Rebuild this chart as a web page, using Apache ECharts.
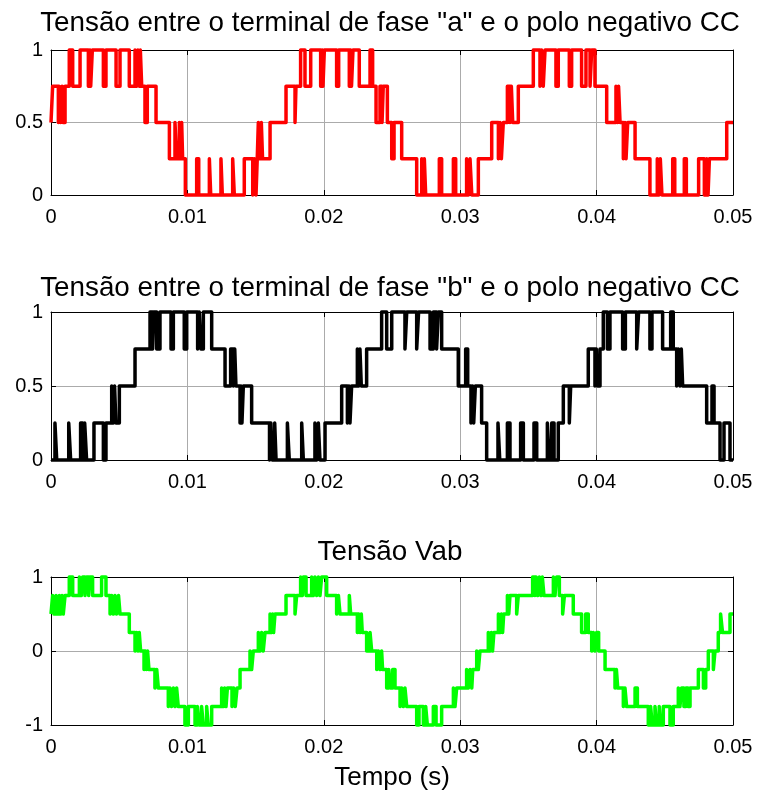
<!DOCTYPE html>
<html>
<head>
<meta charset="utf-8">
<script src="https://cdn.jsdelivr.net/npm/echarts@6/dist/echarts.min.js"></script>
<style>
  html, body { margin: 0; padding: 0; background: #fff; }
  #chart { width: 761px; height: 794px; }
</style>
</head>
<body>
<div id="chart"></div>
<script>
// [tempo em ms, nível] - cada nível vale até o próximo instante
const faseA = [
  [0,0.5],[0.12,0.75],[0.54,0.5],[0.59,0.75],[0.71,0.5],[0.81,0.75],[0.88,0.5],[1.03,0.75],
  [1.34,1],[1.59,0.75],[2.13,1],[2.74,0.75],[2.86,1],[2.91,0.75],[3.03,1],[3.84,0.75],[4.03,1],[4.77,0.75],[5.06,1],[5.74,0.75],[6.16,1],[6.28,0.75],[6.37,1],[6.48,0.75],[6.55,1],[6.65,0.75],
  [6.89,0.5],[7.06,0.75],[7.70,0.5],[8.68,0.25],[9.09,0.5],[9.21,0.25],[9.41,0.5],[9.51,0.25],[9.58,0.5],[9.65,0.25],
  [9.85,0],[10.68,0.25],[10.83,0],[11.61,0.25],[11.71,0],[12.46,0.25],[12.56,0],[13.32,0.25],[13.44,0],[14.17,0.25],[14.79,0],[14.91,0.25],[15.03,0],[15.12,0.25],
  [15.2,0.5],[15.32,0.25],[15.42,0.5],[15.51,0.25],[16.06,0.5],
  [17.23,0.75],[17.89,0.5],[17.96,0.75],
  [18.30,1],[18.62,0.75],[19.04,1],[19.77,0.75],[19.89,1],[19.94,0.75],[20.04,1],[20.94,0.75],[21.09,1],[21.87,0.75],[21.97,1],[22.03,0.75],[22.14,1],[22.6,0.75],[23.39,1],[23.58,0.75],
  [23.83,0.5],[24.12,0.75],[24.27,0.5],[24.36,0.75],[24.66,0.5],[24.98,0.25],[25.15,0.5],[25.71,0.25],
  [26.81,0],[27.18,0.25],[27.30,0],[27.37,0.25],[27.47,0],[28.47,0.25],[28.64,0],[29.5,0.25],[29.67,0],[30.47,0.25],[30.6,0],[30.72,0.25],[30.85,0],[31.33,0.25],
  [32.31,0.5],[32.8,0.25],[32.92,0.5],[33.02,0.25],[33.16,0.5],
  [33.46,0.75],[33.65,0.5],[33.75,0.75],[33.85,0.5],[34.26,0.75],
  [35.36,1],[35.85,0.75],[35.97,1],[36.09,0.75],[36.22,1],[37.02,0.75],[37.19,1],[38.0,0.75],[38.17,1],[38.9,0.75],[39.22,1],[39.52,0.75],[39.64,1],[39.88,0.75],
  [40.74,0.5],[41.42,0.75],[41.54,0.5],[41.61,0.75],[41.72,0.5],[41.96,0.25],[42.08,0.5],[42.16,0.25],[42.28,0.5],[42.82,0.25],
  [43.91,0],[44.45,0.25],[44.57,0],[44.67,0.25],[44.79,0],[45.58,0.25],[45.73,0],[46.43,0.25],[46.58,0],[47.48,0.25],[47.9,0],[48.07,0.25],[48.17,0],[48.27,0.25],
  [49.54,0.5],[50,0.5]
];

const faseB = [
  [0,0],[0.29,0.25],[0.42,0],[1.30,0.25],[1.44,0],[2.17,0.25],[2.32,0],[2.47,0.25],[2.61,0],[3.15,0.25],[3.84,0],[4.03,0.25],
  [4.45,0.5],[4.57,0.25],[4.66,0.5],[4.76,0.25],[5.01,0.5],
  [6.16,0.75],
  [7.26,1],[7.45,0.75],[7.55,1],[7.75,0.75],[7.99,1],[8.80,0.75],[8.97,1],[9.77,0.75],[9.95,1],[10.75,0.75],[10.87,1],[10.99,0.75],[11.17,1],[11.78,0.75],
  [12.76,0.5],[13.17,0.75],[13.37,0.5],[13.47,0.75],[13.56,0.5],[13.86,0.25],[13.93,0.5],[14.0,0.25],[14.1,0.5],[14.71,0.25],
  [16.02,0],[16.12,0.25],[16.22,0],[16.40,0.25],[16.50,0],[17.33,0.25],[17.47,0],[18.38,0.25],[18.5,0],[19.35,0.25],[19.48,0],[19.6,0.25],[19.72,0],[20.09,0.25],
  [21.31,0.5],[21.73,0.25],[21.85,0.5],[21.92,0.25],[22.04,0.5],
  [22.46,0.75],[22.56,0.5],[22.65,0.75],[22.75,0.5],[23.14,0.75],
  [24.24,1],[24.61,0.75],[24.98,1],[25.95,0.75],[26.08,1],[26.81,0.75],[26.95,1],[27.79,0.75],[28.03,1],[28.27,0.75],[28.4,1],[28.64,0.75],
  [29.86,0.5],[30.4,0.75],[30.55,0.5],[30.79,0.25],[30.91,0.5],[30.99,0.25],[31.11,0.5],[31.57,0.25],
  [31.94,0],[32.77,0.25],[32.9,0],[33.46,0.25],[33.65,0],[34.43,0.25],[34.63,0],[35.41,0.25],[35.61,0],[36.39,0.25],[36.53,0],[36.71,0.25],[36.88,0],[37.19,0.25],
  [37.56,0.5],[38.0,0.25],[38.1,0.5],
  [39.39,0.75],[39.88,0.5],[39.98,0.75],[40.07,0.5],[40.25,0.75],
  [40.49,1],[40.79,0.75],[40.98,1],[41.91,0.75],[42.11,1],[42.94,0.75],[43.08,1],[43.91,0.75],[44.06,1],[44.84,0.75],[45.43,1],[45.62,0.75],
  [45.87,0.5],[45.99,0.75],[46.11,0.5],[46.21,0.75],[46.31,0.5],
  [48.07,0.25],[48.46,0.5],[48.61,0.25],
  [49.05,0],[49.34,0.25],[49.78,0],[50,0]
];

const tensaoVab = [
  [0,0.5],[0.12,0.75],[0.22,0.5],[0.37,0.75],[0.46,0.5],[0.61,0.75],[0.71,0.5],[0.81,0.75],[0.90,0.5],[1.03,0.75],
  [1.34,1],[1.59,0.75],[2.08,1],[2.22,0.75],[2.32,1],[2.49,0.75],[2.61,1],[2.76,0.75],[2.86,1],[3.05,0.75],[3.71,1],[4.03,0.75],
  [4.33,0.5],[4.45,0.75],[4.57,0.5],[4.69,0.75],[4.81,0.5],[4.95,0.75],[5.06,0.5],
  [5.74,0.25],
  [6.16,0],[6.28,0.25],[6.37,0],[6.47,0.25],[6.57,0],
  [6.82,-0.25],[6.92,0],[7.01,-0.25],[7.08,0],[7.18,-0.25],
  [7.62,-0.5],[7.75,-0.25],[7.87,-0.5],
  [8.6,-0.75],[8.72,-0.5],[8.84,-0.75],[8.97,-0.5],[9.09,-0.75],[9.21,-0.5],[9.33,-0.75],
  [9.82,-1],[10.07,-0.75],[10.56,-1],[10.73,-0.75],[10.87,-1],[11.04,-0.75],[11.17,-1],[11.41,-0.75],[11.53,-1],[11.78,-0.75],
  [12.51,-0.5],[12.63,-0.75],[12.73,-0.5],[12.83,-0.75],[12.93,-0.5],[13.27,-0.75],[13.39,-0.5],[13.51,-0.75],[13.64,-0.5],
  [13.86,-0.25],[14.59,0],[14.71,-0.25],[14.83,0],
  [15.2,0.25],[15.32,0],[15.44,0.25],[15.56,0],[15.69,0.25],
  [16.06,0.5],[16.18,0.25],[16.25,0.5],[16.32,0.25],[16.42,0.5],
  [17.23,0.75],[17.89,0.5],[18.01,0.75],
  [18.3,1],[18.43,0.75],[18.5,1],[18.7,0.75],[19.11,1],[19.23,0.75],[19.35,1],[19.48,0.75],[19.6,1],[19.72,0.75],[19.84,1],[20.21,0.75],
  [20.94,0.5],[21.07,0.75],[21.19,0.5],[21.87,0.75],[21.97,0.5],
  [22.46,0.25],[22.56,0.5],[22.65,0.25],[22.75,0.5],[22.82,0.25],
  [23.14,0],[23.39,0.25],[23.51,0],
  [23.88,-0.25],[24.0,0],[24.12,-0.25],[24.24,0],[24.31,-0.25],
  [24.61,-0.5],[24.76,-0.25],[24.9,-0.5],[25.05,-0.25],[25.22,-0.5],
  [25.59,-0.75],[25.71,-0.5],[25.83,-0.75],[25.95,-0.5],[26.08,-0.75],
  [26.81,-1],[26.98,-0.75],[27.3,-1],[27.47,-0.75],[27.59,-1],[28.03,-0.75],[28.23,-1],[28.64,-0.75],
  [29.5,-0.5],[29.62,-0.75],[29.74,-0.5],
  [30.47,-0.25],[30.6,-0.5],[30.72,-0.25],[30.85,-0.5],[30.92,-0.25],
  [31.21,0],[31.33,-0.25],[31.45,0],
  [32.06,0.25],[32.18,0],[32.28,0.25],[32.37,0],[32.47,0.25],
  [32.8,0.5],[32.92,0.25],[33.02,0.5],[33.11,0.25],[33.19,0.5],
  [33.46,0.75],[33.56,0.5],[33.65,0.75],[34.14,0.5],[34.26,0.75],
  [35.31,1],[35.46,0.75],[35.56,1],[35.68,0.75],[35.8,1],[35.92,0.75],[36.02,1],[36.14,0.75],[36.83,1],[36.95,0.75],[37.07,1],[37.27,0.75],
  [37.51,0.5],[37.64,0.75],
  [38.29,0.5],
  [38.9,0.25],[39.2,0.5],[39.39,0.25],
  [39.64,0],[39.76,0.25],[39.88,0],[40.0,0.25],[40.15,0],
  [40.62,-0.25],
  [41.35,-0.5],[41.45,-0.25],[41.55,-0.5],
  [41.96,-0.75],[42.08,-0.5],[42.2,-0.75],[42.82,-0.5],[42.99,-0.75],
  [43.79,-1],[43.96,-0.75],[44.08,-1],[44.28,-0.75],[44.4,-1],[44.59,-0.75],[44.69,-1],[44.89,-0.75],[45.38,-1],[45.62,-0.75],
  [45.99,-0.5],[46.11,-0.75],[46.23,-0.5],[46.4,-0.75],[46.55,-0.5],[46.7,-0.75],[46.85,-0.5],
  [47.46,-0.25],[47.83,-0.5],[48.0,-0.25],
  [48.19,0],[48.56,-0.25],[48.68,0],
  [48.92,0.25],[49.09,0.5],[49.23,0.25],
  [49.78,0.5],[50,0.5]
];

const titulos = [
  'Tensão entre o terminal de fase "a" e o polo negativo CC',
  'Tensão entre o terminal de fase "b" e o polo negativo CC',
  'Tensão Vab'
];
const cores = ['#ff0000', '#000000', '#00ff00'];
const yLimites = [[0, 1, 0.5], [0, 1, 0.5], [-1, 1, 1]];
const series = [faseA, faseB, tensaoVab];

const FONTE = '"Liberation Sans", Arial, sans-serif';
const grids = [
  { left: 51, top: 50, width: 682, height: 145 },
  { left: 51, top: 312, width: 682, height: 148 },
  { left: 51, top: 577, width: 682, height: 148 }
];
const titleTops = [9, 274, 538];

const fmt = v => String(+v.toFixed(2));

const xAxes = [], yAxes = [], seriesOpt = [], titles = [];
grids.forEach((g, i) => {
  titles.push({
    text: titulos[i],
    left: 390, top: titleTops[i], textAlign: 'center', padding: 0,
    textStyle: { fontSize: 27.8, fontWeight: 'normal', color: '#000', fontFamily: FONTE }
  });
  const common = {
    gridIndex: i, type: 'value', min: 0, max: 0.05, interval: 0.01,
    axisLine: { show: true, onZero: false, lineStyle: { color: '#000', width: 1 } },
    axisTick: { show: true, inside: true, length: 5, lineStyle: { color: '#000' } }
  };
  xAxes.push(Object.assign({}, common, {
    position: 'bottom',
    axisLabel: { color: '#000', fontSize: 20, fontFamily: FONTE, margin: 12, formatter: fmt },
    splitLine: { show: true, lineStyle: { color: '#ababab', width: 1 } },
    name: i === 2 ? 'Tempo (s)' : '',
    nameLocation: 'middle', nameGap: 40,
    nameTextStyle: { fontSize: 26, color: '#000', fontFamily: FONTE }
  }));
  xAxes.push(Object.assign({}, common, {
    position: 'top', axisLabel: { show: false }, splitLine: { show: false }
  }));
  const [ymin, ymax, yint] = yLimites[i];
  const ycommon = {
    gridIndex: i, type: 'value', min: ymin, max: ymax, interval: yint,
    axisLine: { show: true, onZero: false, lineStyle: { color: '#000', width: 1 } },
    axisTick: { show: true, inside: true, length: 5, lineStyle: { color: '#000' } }
  };
  yAxes.push(Object.assign({}, ycommon, {
    position: 'left',
    axisLabel: { color: '#000', fontSize: 20, fontFamily: FONTE, margin: 8, formatter: fmt },
    splitLine: { show: true, lineStyle: { color: '#ababab', width: 1 } }
  }));
  yAxes.push(Object.assign({}, ycommon, {
    position: 'right', axisLabel: { show: false }, splitLine: { show: false }
  }));
  seriesOpt.push({
    type: 'line',
    xAxisIndex: i * 2, yAxisIndex: i * 2,
    step: 'end',
    showSymbol: false, symbol: 'none',
    clip: false,
    lineStyle: { color: cores[i], width: 3.5, join: 'round', cap: 'butt' },
    data: series[i].map(p => [p[0] / 1000, p[1]])
  });
});

const chart = echarts.init(document.getElementById('chart'), null, { renderer: 'canvas' });
chart.setOption({
  animation: false,
  backgroundColor: '#fff',
  title: titles,
  grid: grids,
  xAxis: xAxes,
  yAxis: yAxes,
  series: seriesOpt
});
</script>
</body>
</html>
